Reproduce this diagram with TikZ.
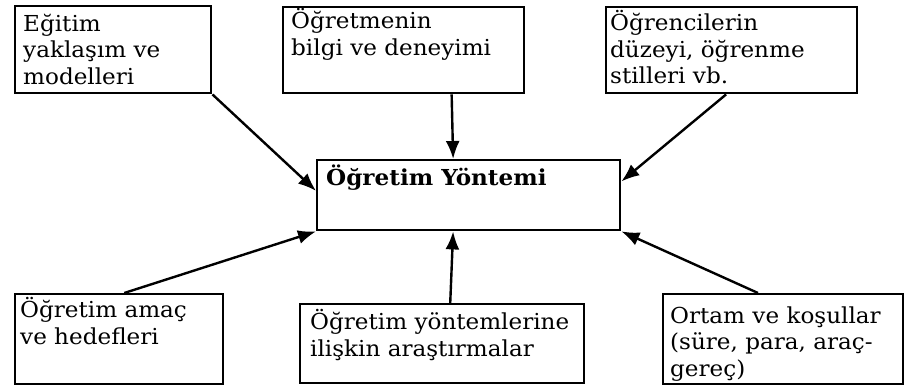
\documentclass[tikz,border=0pt]{standalone}
\usepackage{fontspec}
\setmainfont[FakeStretch=1.05]{DejaVu Serif}
\usetikzlibrary{arrows.meta,calc}
\begin{document}
\begin{tikzpicture}[x=1pt,y=-1pt,
  box/.style={draw,line width=2.4pt,inner sep=0pt,anchor=north west},
  txt/.style={inner sep=0pt,anchor=north west,align=left,font=\fontsize{22}{26.5}\selectfont},
  ttl/.style={inner sep=0pt,anchor=north west,align=left,font=\fontsize{22}{26.5}\selectfont\bfseries},
  arr/.style={line width=2.4pt,-{Latex[length=18pt,width=14pt]}}]
\useasboundingbox (0,0) rectangle (921,385);
% boxes
\node[box,minimum width=196pt,minimum height=87pt] (b1) at (14,5) {};
\node[box,minimum width=241pt,minimum height=86pt] (b2) at (282,6) {};
\node[box,minimum width=251pt,minimum height=86pt] (b3) at (605,6) {};
\node[box,minimum width=303pt,minimum height=70pt] (c) at (316,159) {};
\node[box,minimum width=208pt,minimum height=90pt] (b4) at (14,293) {};
\node[box,minimum width=284pt,minimum height=79pt] (b5) at (299,303) {};
\node[box,minimum width=240pt,minimum height=90pt] (b6) at (662,293) {};
% texts
\node[txt] (t1) at (23,12.5) {\strut Eğitim\\yaklaşım ve\\modelleri};
\node[txt] (t2) at (291,8.5) {\strut Öğretmenin\\bilgi ve deneyimi};
\node[txt] (t3) at (610,10.5) {\strut Öğrencilerin\\düzeyi, öğrenme\\stilleri vb.};
\node[ttl] (tc) at (326,164.5) {\strut Öğretim Yöntemi};
\node[txt] (t4) at (20,297.5) {\strut Öğretim amaç\\ve hedefleri};
\node[txt] (t5) at (310,309.5) {\strut Öğretim yöntemlerine\\ilişkin araştırmalar};
\node[txt] (t6) at (670,304.5) {\strut Ortam ve koşullar\\(süre, para, araç-\\gereç)};
% arrows
\draw[arr] (b1.south east) -- ($(c.north west)!0.44!(c.south west)$);
\draw[arr] ($(b2.south west)!0.697!(b2.south east)$) -- ($(c.north west)!0.449!(c.north east)$);
\draw[arr] ($(b3.south west)!0.478!(b3.south east)$) -- ($(c.north east)!0.31!(c.south east)$);
\draw[arr] ($(b4.north west)!0.524!(b4.north east)$) -- (c.south west);
\draw[arr] ($(b5.north west)!0.528!(b5.north east)$) -- ($(c.south west)!0.449!(c.south east)$);
\draw[arr] ($(b6.north west)!0.396!(b6.north east)$) -- (c.south east);
\end{tikzpicture}
\end{document}
